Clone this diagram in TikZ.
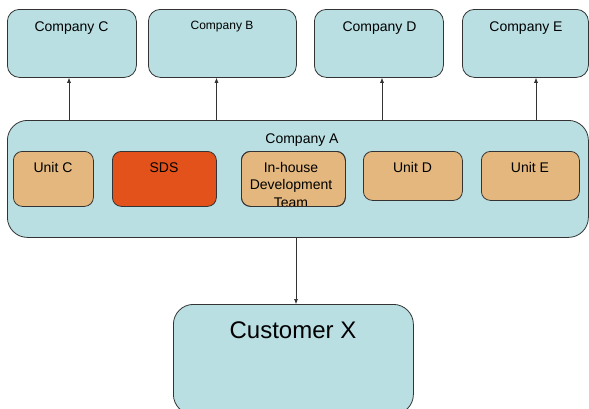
\documentclass[tikz,border=0pt]{standalone}
\usepackage{fontspec}
\setmainfont{Liberation Sans}
\usepackage{tikz}
\usetikzlibrary{arrows.meta}
\definecolor{boxblue}{HTML}{B9DFE2}
\definecolor{unittan}{HTML}{E3B77E}
\definecolor{sdsred}{HTML}{E2521A}
\definecolor{edge}{HTML}{333333}
\tikzstyle{company} = [draw=edge, line width=0.8pt, fill=boxblue, rounded corners=12pt, anchor=north west, inner sep=0pt]
\tikzstyle{unit} = [draw=edge, line width=0.8pt, fill=unittan, rounded corners=9pt, anchor=north west, inner sep=0pt]
\tikzstyle{caption} = [anchor=base, inner sep=0pt, font=\fontsize{14}{16.5}\selectfont]
\tikzstyle{arrow} = [line width=0.6pt, draw=edge, -{Latex[length=5pt,width=4pt]}]

\begin{document}
\begin{tikzpicture}[x=1pt, y=-1pt]
  \clip (0,0) rectangle (589,408);
  \fill[white] (0,0) rectangle (589,408);

  % TOP ROW
  % company boxes
  \node[company, minimum width=129pt, minimum height=68pt] (compC) at (7,9) {};
  \node[company, minimum width=148pt, minimum height=68pt] (compB) at (148,9) {};
  \node[company, minimum width=129pt, minimum height=68pt] (compD) at (314,9) {};
  \node[company, minimum width=126pt, minimum height=68pt] (compE) at (462,9) {};
  % names
  \node[caption] (compCname) at (71.5,31) {Company C};
  \node[caption, font=\fontsize{12}{14}\selectfont] (compBname) at (222,29) {Company B};
  \node[caption] (compDname) at (379.5,31) {Company D};
  \node[caption] (compEname) at (526,31) {Company E};

  % COMPANY A
  \node[company, rounded corners=20pt, minimum width=581pt, minimum height=117pt] (compA) at (7,120) {};
  \node[caption] (compAname) at (302,143) {Company A};
  % units
  \node[unit, minimum width=80pt, minimum height=55pt] (unitC) at (13,151) {};
  \node[unit, fill=sdsred, minimum width=104pt, minimum height=55pt] (sds) at (112,151) {};
  \node[unit, minimum width=104pt, minimum height=55pt] (inhouse) at (241,151) {};
  \node[unit, minimum width=99pt, minimum height=49pt] (unitD) at (363,151) {};
  \node[unit, minimum width=98pt, minimum height=49pt] (unitE) at (481,151) {};
  \node[caption] (unitCname) at (53,172) {Unit C};
  \node[caption] (sdsname) at (164,172) {SDS};
  % base of a wrapped node sits on its last line
  \node[caption, align=center, font=\fontsize{14}{17.5}\selectfont] (inhousename) at (291,207) {In-house\\Development\\Team};
  \node[unit, fill=none, minimum width=104pt, minimum height=55pt] (inhouseedge) at (241,151) {};
  \node[caption] (unitDname) at (412.5,172) {Unit D};
  \node[caption] (unitEname) at (530,172) {Unit E};

  % CUSTOMER
  \node[company, rounded corners=20pt, minimum width=240pt, minimum height=110pt] (custX) at (173,304) {};
  \node[caption, font=\fontsize{24}{28}\selectfont] (custXname) at (293,338) {Customer X};

  % ARROWS
  \coordinate (xC) at (69,0);
  \coordinate (xB) at (216.5,0);
  \coordinate (xD) at (382,0);
  \coordinate (xE) at (536,0);
  \coordinate (xX) at (296,0);
  \draw[arrow] (compA.north -| xC) -- (compC.south -| xC);
  \draw[arrow] (compA.north -| xB) -- (compB.south -| xB);
  \draw[arrow] (compA.north -| xD) -- (compD.south -| xD);
  \draw[arrow] (compA.north -| xE) -- (compE.south -| xE);
  \draw[arrow] (compA.south -| xX) -- (custX.north -| xX);
\end{tikzpicture}
\end{document}
